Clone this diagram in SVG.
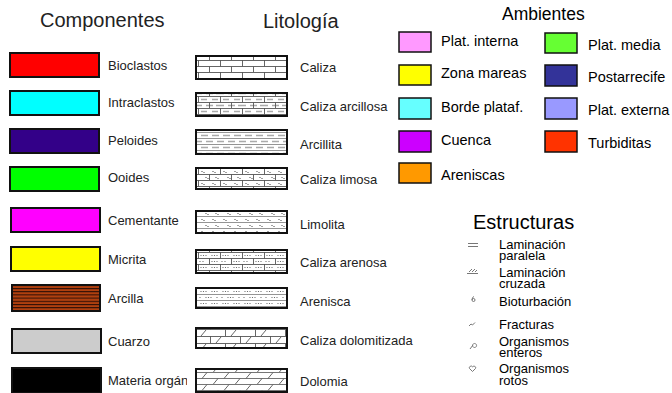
<svg xmlns="http://www.w3.org/2000/svg" width="672" height="393" viewBox="0 0 672 393">
<style>
  .t{font-family:"Liberation Sans",Arial,sans-serif;fill:#222}
  .h{font-size:20px}
  .l{font-size:13px}
  .a{font-size:14.5px;fill:#000}
  .e{font-size:13px;fill:#000}
  .cb{stroke:#111;stroke-width:2}
  .ab{stroke:#111;stroke-width:1.5}
  .lb{stroke:#111;stroke-width:2}
  .ic{fill:none;stroke:#777;stroke-width:1}
</style>
<defs>
  <pattern id="arcilla" patternUnits="userSpaceOnUse" width="10" height="3.2">
    <rect width="10" height="3.2" fill="#b0400f"/>
    <rect y="0" width="10" height="1" fill="#2a0d05"/>
  </pattern>
  <pattern id="brick" patternUnits="userSpaceOnUse" width="22" height="12">
    <rect width="22" height="12" fill="#fff"/>
    <path d="M0 0.5H22M0 6.5H22M0.5 0V6.5M11.5 6.5V12" stroke="#555" stroke-width="0.9" fill="none"/>
  </pattern>
  <pattern id="brickArc" patternUnits="userSpaceOnUse" width="22" height="12">
    <rect width="22" height="12" fill="#fff"/>
    <path d="M3 3.5H9M14 3.5H20M8 9.5H15M18 9.5H22M0 9.5H4" stroke="#aaa" stroke-width="1.6" fill="none"/>
    <path d="M0 0.5H22M0 6.5H22M0.5 0V6.5M11.5 6.5V12" stroke="#555" stroke-width="0.9" fill="none"/>
  </pattern>
  <pattern id="arcillita" patternUnits="userSpaceOnUse" width="22" height="12">
    <rect width="22" height="12" fill="#fff"/>
    <path d="M0 0.5H22M0 6.5H22" stroke="#888" stroke-width="0.9" fill="none"/>
    <path d="M3 3.5H10M14 3.5H21M8 9.5H15M19 9.5H22M0 9.5H4" stroke="#aaa" stroke-width="1.4" fill="none"/>
  </pattern>
  <pattern id="brickLim" patternUnits="userSpaceOnUse" width="22" height="12">
    <rect width="22" height="12" fill="#fff"/>
    <path d="M0 0.5H22M0 6.5H22M0.5 0V6.5M11.5 6.5V12" stroke="#555" stroke-width="0.9" fill="none"/>
    <path d="M3 4q1-2 2 0t2 0M14 4q1-2 2 0t2 0M7 10q1-2 2 0t2 0M17 10q1-2 2 0t2 0" stroke="#777" stroke-width="0.7" fill="none"/>
  </pattern>
  <pattern id="limolita" patternUnits="userSpaceOnUse" width="22" height="12">
    <rect width="22" height="12" fill="#fff"/>
    <path d="M0 0.5H22M0 6.5H22" stroke="#888" stroke-width="0.9" fill="none"/>
    <path d="M3 4q1-2 2 0t2 0M14 4q1-2 2 0t2 0M7 10q1-2 2 0t2 0M17 10q1-2 2 0t2 0" stroke="#777" stroke-width="0.7" fill="none"/>
  </pattern>
  <pattern id="brickAre" patternUnits="userSpaceOnUse" width="22" height="12">
    <rect width="22" height="12" fill="#fff"/>
    <path d="M0 0.5H22M0 6.5H22M0.5 0V6.5M11.5 6.5V12" stroke="#555" stroke-width="0.9" fill="none"/>
    <g fill="#555"><circle cx="3" cy="3.5" r="0.6"/><circle cx="5.5" cy="3.5" r="0.6"/><circle cx="8" cy="3.5" r="0.6"/><circle cx="14" cy="3.5" r="0.6"/><circle cx="16.5" cy="3.5" r="0.6"/><circle cx="19" cy="3.5" r="0.6"/><circle cx="2" cy="9.5" r="0.6"/><circle cx="5" cy="9.5" r="0.6"/><circle cx="14" cy="9.5" r="0.6"/><circle cx="16.5" cy="9.5" r="0.6"/><circle cx="19" cy="9.5" r="0.6"/></g>
  </pattern>
  <pattern id="arenisca" patternUnits="userSpaceOnUse" width="22" height="12">
    <rect width="22" height="12" fill="#fff"/>
    <path d="M0 0.5H22M0 6.5H22" stroke="#888" stroke-width="0.9" fill="none"/>
    <g fill="#555"><circle cx="3" cy="3.5" r="0.6"/><circle cx="5.5" cy="3.5" r="0.6"/><circle cx="8" cy="3.5" r="0.6"/><circle cx="14" cy="3.5" r="0.6"/><circle cx="16.5" cy="3.5" r="0.6"/><circle cx="19" cy="3.5" r="0.6"/><circle cx="2" cy="9.5" r="0.6"/><circle cx="8" cy="9.5" r="0.6"/><circle cx="10.5" cy="9.5" r="0.6"/><circle cx="13" cy="9.5" r="0.6"/><circle cx="19" cy="9.5" r="0.6"/></g>
  </pattern>
  <pattern id="brickDol" patternUnits="userSpaceOnUse" width="30" height="14">
    <rect width="30" height="14" fill="#fff"/>
    <path d="M0 0.5H30M0 7.5H30M0.5 0V7.5M15.5 7.5V14" stroke="#555" stroke-width="0.9" fill="none"/>
    <path d="M6 7L11 1M21 14L26 8" stroke="#555" stroke-width="0.9" fill="none"/>
  </pattern>
  <pattern id="dolomia" patternUnits="userSpaceOnUse" width="22" height="12">
    <rect width="22" height="12" fill="#fff"/>
    <path d="M0 0.5H22M0 6.5H22" stroke="#666" stroke-width="0.9" fill="none"/>
    <path d="M4 6.5L9 0.5M15 12.5L20 6.5" stroke="#555" stroke-width="0.9" fill="none"/>
  </pattern>
  <clipPath id="clipMat"><rect x="100" y="360" width="87" height="33"/></clipPath>
</defs>
<rect width="672" height="393" fill="#fff"/>

<!-- Titles -->
<text class="t h" x="40" y="27">Componentes</text>
<text class="t h" x="263" y="28">Litología</text>
<text class="t" x="502" y="20" style="font-size:17.5px;fill:#000">Ambientes</text>
<text class="t" x="473" y="229" style="font-size:20px;fill:#000">Estructuras</text>

<!-- Componentes -->
<g id="c-bioclastos"><rect class="cb" x="10" y="53" width="89" height="24" fill="#ff0000"/><text class="t l" x="108" y="70">Bioclastos</text></g>
<g id="c-intraclastos"><rect class="cb" x="10" y="91" width="89" height="24" fill="#00ffff"/><text class="t l" x="108" y="107">Intraclastos</text></g>
<g id="c-peloides"><rect class="cb" x="10" y="129" width="89" height="24" fill="#330088"/><text class="t l" x="108" y="145">Peloides</text></g>
<g id="c-ooides"><rect class="cb" x="10" y="167" width="89" height="24" fill="#00ff00"/><text class="t l" x="108" y="182">Ooides</text></g>
<g id="c-cementante"><rect class="cb" x="11" y="208" width="89" height="24" fill="#ff00ff"/><text class="t l" x="108" y="225">Cementante</text></g>
<g id="c-micrita"><rect class="cb" x="11" y="247" width="89" height="24" fill="#ffff00"/><text class="t l" x="108" y="264">Micrita</text></g>
<g id="c-arcilla"><rect class="cb" x="12" y="285" width="88" height="26" fill="url(#arcilla)"/><text class="t l" x="108" y="303">Arcilla</text></g>
<g id="c-cuarzo"><rect class="cb" x="12" y="329" width="89" height="24" fill="#cccccc"/><text class="t l" x="108" y="346">Cuarzo</text></g>
<g id="c-materia"><rect class="cb" x="12" y="368" width="89" height="25" fill="#000"/><text class="t l" x="108" y="385" clip-path="url(#clipMat)">Materia orgánica</text></g>

<!-- Litología -->
<g id="l-caliza"><rect class="lb" x="196" y="56" width="91" height="23" fill="url(#brick)"/><text class="t l" x="300" y="72">Caliza</text></g>
<g id="l-caliza-arcillosa"><rect class="lb" x="196" y="93" width="91" height="23" fill="url(#brickArc)"/><text class="t l" x="300" y="111">Caliza arcillosa</text></g>
<g id="l-arcillita"><rect class="lb" x="196" y="130" width="91" height="24" fill="url(#arcillita)"/><text class="t l" x="300" y="149">Arcillita</text></g>
<g id="l-caliza-limosa"><rect class="lb" x="196" y="168" width="91" height="21" fill="url(#brickLim)"/><text class="t l" x="300" y="184">Caliza limosa</text></g>
<g id="l-limolita"><rect class="lb" x="196" y="211" width="91" height="22" fill="url(#limolita)"/><text class="t l" x="300" y="229">Limolita</text></g>
<g id="l-caliza-arenosa"><rect class="lb" x="196" y="250" width="91" height="23" fill="url(#brickAre)"/><text class="t l" x="300" y="267">Caliza arenosa</text></g>
<g id="l-arenisca"><rect class="lb" x="196" y="288" width="91" height="20" fill="url(#arenisca)"/><text class="t l" x="300" y="306">Arenisca</text></g>
<g id="l-caliza-dolomitizada"><rect class="lb" x="196" y="328" width="91" height="20" fill="url(#brickDol)"/><text class="t l" x="300" y="345">Caliza dolomitizada</text></g>
<g id="l-dolomia"><rect class="lb" x="196" y="369" width="91" height="23" fill="url(#dolomia)"/><text class="t l" x="300" y="386">Dolomia</text></g>

<!-- Ambientes -->
<g id="a-plat-interna"><rect class="ab" x="399" y="32" width="32" height="20" fill="#ff99ff"/><text class="t a" x="441" y="46">Plat. interna</text></g>
<g id="a-zona-mareas"><rect class="ab" x="399" y="65" width="32" height="20" fill="#ffff00"/><text class="t a" x="441" y="78">Zona mareas</text></g>
<g id="a-borde-plataf"><rect class="ab" x="399" y="98" width="32" height="21" fill="#66ffff"/><text class="t a" x="441" y="112">Borde plataf.</text></g>
<g id="a-cuenca"><rect class="ab" x="399" y="131" width="32" height="21" fill="#cc00ff"/><text class="t a" x="441" y="145">Cuenca</text></g>
<g id="a-areniscas"><rect class="ab" x="399" y="163" width="32" height="20" fill="#ff9900"/><text class="t a" x="441" y="180">Areniscas</text></g>
<g id="a-plat-media"><rect class="ab" x="545" y="33" width="32" height="20" fill="#66ff33"/><text class="t a" x="588" y="50">Plat. media</text></g>
<g id="a-postarrecife"><rect class="ab" x="545" y="65" width="32" height="21" fill="#333399"/><text class="t a" x="588" y="82">Postarrecife</text></g>
<g id="a-plat-externa"><rect class="ab" x="545" y="98" width="32" height="21" fill="#9999ff"/><text class="t a" x="588" y="115">Plat. externa</text></g>
<g id="a-turbiditas"><rect class="ab" x="545" y="131" width="32" height="21" fill="#ff3300"/><text class="t a" x="588" y="148">Turbiditas</text></g>

<!-- Estructuras -->
<g id="e-paralela">
  <path class="ic" d="M468 243.5H478M468 246.5H478"/>
  <text class="t e" x="499" y="249">Laminación<tspan x="499" dy="11">paralela</tspan></text>
</g>
<g id="e-cruzada">
  <path class="ic" d="M467 273.5H478M469 272L472 269M472 272L475 269M475 272L477 270"/>
  <text class="t e" x="499" y="277">Laminación<tspan x="499" dy="11">cruzada</tspan></text>
</g>
<g id="e-bioturbacion">
  <path class="ic" d="M472 300a1.5 1.5 0 1 0 3 0a1.5 1.5 0 1 0 -3 0M472 300q0-3 2-3.5"/>
  <text class="t e" x="499" y="306">Bioturbación</text>
</g>
<g id="e-fracturas">
  <path class="ic" d="M469 326l2-2 1.5 1 2.5-2.5"/>
  <text class="t e" x="499" y="329">Fracturas</text>
</g>
<g id="e-enteros">
  <path class="ic" d="M474.5 343.5a2 2 0 1 0 0.1 0M473 345L470 349"/>
  <text class="t e" x="499" y="346">Organismos<tspan x="499" dy="11">enteros</tspan></text>
</g>
<g id="e-rotos">
  <path class="ic" d="M472.5 371.5L469.5 368.5a1.5 1.5 0 0 1 3-1.5a1.5 1.5 0 0 1 3 1.5Z"/>
  <text class="t e" x="499" y="373">Organismos<tspan x="499" dy="12">rotos</tspan></text>
</g>
</svg>
